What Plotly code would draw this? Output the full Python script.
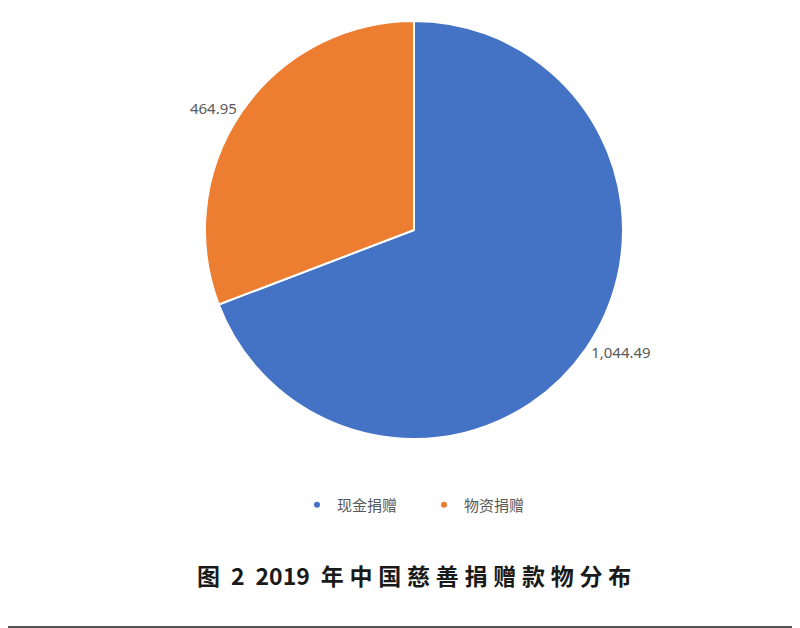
import plotly.graph_objects as go

categories = ["现金捐赠", "物资捐赠"]
values = [1044.49, 464.95]
value_labels = ["1,044.49", "464.95"]
colors = ["#4472C4", "#ED7D31"]
title_text = "图 2 2019 年中国慈善捐赠款物分布"

W, H = 800, 628
cx, cy, r = 406, 222, 209

fig = go.Figure()
fig.add_trace(go.Pie(
    labels=categories,
    values=values,
    text=value_labels,
    textinfo="text",
    textposition="outside",
    sort=False,
    direction="clockwise",
    rotation=0,
    marker=dict(colors=colors, line=dict(color="white", width=2)),
    outsidetextfont=dict(family="Noto Sans, Arial", size=15, color="#595959"),
    domain=dict(x=[(cx - r) / W, (cx + r) / W], y=[1 - (cy + r) / H, 1 - (cy - r) / H]),
    showlegend=False,
    hoverinfo="label+value",
))

# legend entries with small round markers
for name, col in zip(categories, colors):
    fig.add_trace(go.Scatter(
        x=[None], y=[None], mode="markers", name=name,
        marker=dict(color=col, size=6, symbol="circle"),
        showlegend=True,
    ))

spaced = "\u2005".join(list("年中国慈善捐赠款物分布"))
title = "图\u2005 2\u2005 2019\u2005 " + spaced

fig.update_layout(
    width=W, height=H,
    margin=dict(l=0, r=0, t=0, b=0),
    paper_bgcolor="white",
    plot_bgcolor="white",
    xaxis=dict(visible=False),
    yaxis=dict(visible=False),
    font=dict(family="Noto Sans CJK SC, Noto Sans", color="#595959"),
    legend=dict(
        orientation="h",
        x=0.52, xanchor="center",
        y=1 - 497 / H, yanchor="middle",
        font=dict(family="Noto Sans CJK SC", size=15, color="#595959"),
        itemwidth=30,
        entrywidth=82,
        tracegroupgap=0,
    ),
    annotations=[dict(
        text=title,
        x=406 / W, y=1 - 567 / H, xref="paper", yref="paper",
        xanchor="center", yanchor="middle",
        showarrow=False,
        font=dict(family="Noto Sans CJK SC", size=23, color="#1a1a1a", weight="bold"),
    )],
    shapes=[dict(type="line", xref="paper", yref="paper", x0=0, x1=1,
                 y0=1 - 619 / H, y1=1 - 619 / H,
                 line=dict(color="#555555", width=2))],
)

fig.write_html("out.html")
